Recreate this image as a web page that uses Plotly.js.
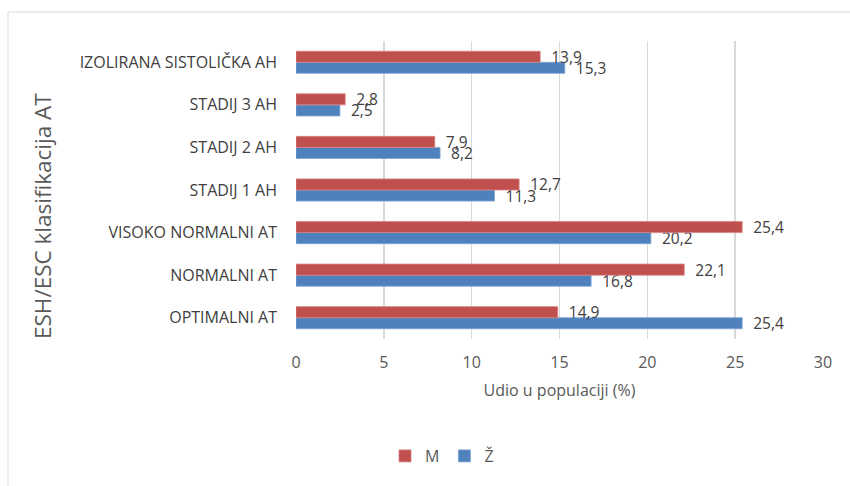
<!DOCTYPE html>
<html><head><meta charset="utf-8">
<script src="https://cdn.plot.ly/plotly-3.0.1.min.js"></script>
<style>html,body{margin:0;padding:0;background:#fff}#chart{width:850px;height:486px}</style>
</head><body><div id="chart"></div>
<script>
const categories = ["OPTIMALNI AT","NORMALNI AT","VISOKO NORMALNI AT","STADIJ 1 AH","STADIJ 2 AH","STADIJ 3 AH","IZOLIRANA SISTOLIČKA AH"];
const valuesM = [14.9, 22.1, 25.4, 12.7, 7.9, 2.8, 13.9];
const valuesZ = [25.4, 16.8, 20.2, 11.3, 8.2, 2.5, 15.3];
const seriesNames = ["M","Ž"];
const xTicks = [0,5,10,15,20,25,30];
const xTitle = 'Udio u populaciji (%)';
const yTitle = 'ESH/ESC klasifikacija AT';

const font = "'Open Sans', sans-serif";
const pad = '\u00a0\u00a0';
function mkTrace(name, vals, color, lineColor) {
  return {type:'bar', orientation:'h', name:name, y:categories, x:vals,
    marker:{color:color, line:{color:lineColor, width:0.8}},
    texttemplate:pad + '%{x:.1f}', textposition:'outside', cliponaxis:false, constraintext:'none',
    textfont:{family:font, size:15.5, color:'#404040'}, hoverinfo:'x+y'};
}
const traceZ = mkTrace(seriesNames[1], valuesZ, '#4F81BD', '#7EA3D4');
const traceM = mkTrace(seriesNames[0], valuesM, '#C0504D', '#D88280');

const L = 296, R = 27, T = 41, B = 147, W = 850, H = 486;
const pw = W - L - R, ph = H - T - B;
const px2x = p => (p - L) / pw;
const py2y = p => (H - B - p) / ph;

const layout = {
  width:W, height:H, margin:{l:L, r:R, t:T, b:B, pad:0},
  paper_bgcolor:'#fff', plot_bgcolor:'#fff',
  separators:', ',
  font:{family:font, size:16, color:'#404040'},
  barmode:'group', bargap:0.48, bargroupgap:0,
  showlegend:true,
  legend:{orientation:'h', traceorder:'reversed', x:px2x(442), xanchor:'center', y:py2y(456), yanchor:'middle',
    font:{family:font, size:16, color:'#595959'}, itemwidth:30},
  xaxis:{range:[0,30], tickvals:xTicks, ticktext:xTicks.map(String), showgrid:true, gridcolor:'#D9D9D9', gridwidth:1.4,
    zeroline:false, showline:false, ticks:'', ticklabelstandoff:12,
    tickfont:{family:font, size:16, color:'#595959'},
    title:{text:xTitle, font:{family:font, size:16, color:'#595959'}, standoff:12}},
  yaxis:{type:'category', showgrid:false, zeroline:false, showline:false, ticks:'', ticklabelstandoff:18,
    tickfont:{family:font, size:16, color:'#404040'}},
  annotations:[{text:yTitle, textangle:-90, xref:'paper', yref:'paper', x:px2x(42), y:py2y(216),
    xanchor:'center', yanchor:'middle', showarrow:false, font:{family:font, size:22.5, color:'#595959'}}],
  shapes:[{type:'rect', xref:'paper', yref:'paper', x0:px2x(8), x1:px2x(860), y0:py2y(500), y1:py2y(12),
    line:{color:'#D9D9D9', width:1}, fillcolor:'rgba(0,0,0,0)', layer:'below'}]
};
Plotly.newPlot('chart', [traceZ, traceM], layout, {displayModeBar:false, staticPlot:true});
</script></body></html>
